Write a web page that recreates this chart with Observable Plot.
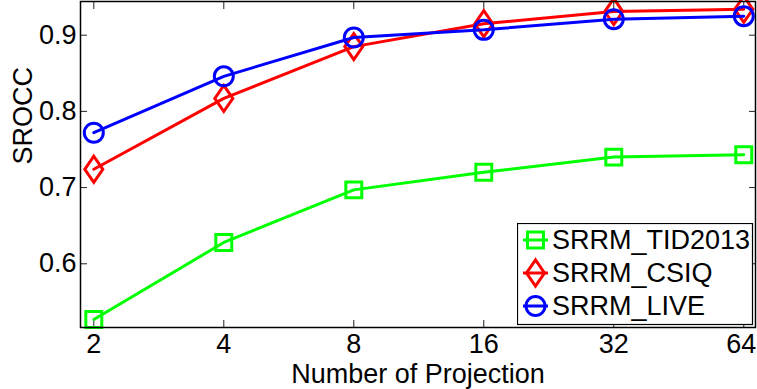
<!DOCTYPE html>
<html><head><meta charset="utf-8">
<script src="https://cdn.jsdelivr.net/npm/d3@7"></script>
<script src="https://cdn.jsdelivr.net/npm/@observablehq/plot@0.6"></script>
<style>
html,body{margin:0;padding:0;background:#fff;}
#chart{position:relative;width:757px;height:389px;font-family:"Liberation Sans",Arial,sans-serif;}
#legend{position:absolute;left:517px;top:223px;}
</style></head><body><div id="chart"></div>
<script>
const projections = [2, 4, 8, 16, 32, 64];
const xTicks = [2, 4, 8, 16, 32, 64];
const yTicks = [0.6, 0.7, 0.8, 0.9];
const seriesNames = ["SRRM_TID2013", "SRRM_CSIQ", "SRRM_LIVE"];
const tid2013 = [0.527, 0.628, 0.697, 0.720, 0.740, 0.743];
const csiq = [0.724, 0.817, 0.885, 0.915, 0.931, 0.934];
const live = [0.772, 0.846, 0.897, 0.907, 0.921, 0.925];
const colors = ["#00ff00", "#ff0000", "#0000ff"];
const xLabel = "Number of Projection";
const yLabel = "SROCC";

const diamond = {
  draw(context, size) {
    const r = Math.sqrt(size / Math.PI);
    const w = r, h = r * 1.45;
    context.moveTo(0, -h); context.lineTo(w, 0); context.lineTo(0, h); context.lineTo(-w, 0); context.closePath();
  }
};
const symbols = [d3.symbolSquare, diamond, d3.symbolCircle];
const radii = [9.0, 9.0, 9.5];

const allValues = [tid2013, csiq, live];
const rows = [];
allValues.forEach((vals, s) => vals.forEach((v, i) => rows.push({series: seriesNames[s], n: projections[i], v})));

const seriesMarks = [];
seriesNames.forEach((name, s) => {
  const d = rows.filter(r => r.series === name);
  seriesMarks.push(Plot.line(d, {x: "n", y: "v", stroke: colors[s], strokeWidth: 3}));
  seriesMarks.push(Plot.dot(d, {x: "n", y: "v", stroke: colors[s], strokeWidth: 3, fill: "none", r: radii[s], symbol: symbols[s]}));
});

const FS = 27;
const innerTicks = xTicks.slice(0, -1);
const lastTick = xTicks.slice(-1);
const chart = Plot.plot({
  width: 757, height: 389,
  marginLeft: 80, marginRight: 2, marginTop: 1, marginBottom: 62,
  style: {fontFamily: "'Liberation Sans', Arial, sans-serif", fontSize: FS + "px", background: "white", color: "black", overflow: "visible"},
  x: {type: "log", base: 2, domain: [1.863, 68.13]},
  y: {domain: [0.5164, 0.9442]},
  marks: [
    Plot.axisX(xTicks, {anchor: "bottom", tickSize: -7, text: null, label: null, stroke: "#222"}),
    Plot.axisX(xTicks, {anchor: "top", tickSize: -7, text: null, label: null, stroke: "#222"}),
    Plot.axisY(yTicks, {anchor: "left", tickSize: -7, text: null, label: null, stroke: "#222"}),
    Plot.axisY(yTicks, {anchor: "right", tickSize: -7, text: null, label: null, stroke: "#222"}),
    Plot.axisX(innerTicks, {anchor: "bottom", tickSize: 0, tickPadding: 6, label: null, tickFormat: d => String(d), fill: "black", fontSize: FS}),
    Plot.axisX(lastTick, {anchor: "bottom", tickSize: 0, tickPadding: 6, label: null, tickFormat: d => String(d), fill: "black", fontSize: FS, dx: -2.5}),
    Plot.axisY(yTicks, {anchor: "left", tickSize: 0, tickPadding: 4, label: null, tickFormat: d => d.toFixed(1), fill: "black", fontSize: FS}),
    Plot.text([xLabel], {frameAnchor: "bottom", lineAnchor: "top", dy: 36.5, fontSize: FS, fill: "black"}),
    Plot.text([yLabel], {frameAnchor: "left", rotate: -90, dx: -57, fontSize: FS, fill: "black"}),
    ...seriesMarks,
    Plot.frame({stroke: "#000", strokeWidth: 1.5})
  ]
});
const host = document.getElementById("chart");
host.appendChild(chart);

// legend
const lg = d3.select(host).append("svg").attr("id", "legend").attr("width", 237).attr("height", 103)
  .style("font-family", "'Liberation Sans', Arial, sans-serif");
lg.append("rect").attr("x", 0.5).attr("y", 0.5).attr("width", 235).attr("height", 101).attr("fill", "white").attr("stroke", "black").attr("stroke-width", 1.2);
seriesNames.forEach((name, s) => {
  const cy = 17 + s * 33;
  const g = lg.append("g");
  g.append("line").attr("x1", 6).attr("x2", 31).attr("y1", cy).attr("y2", cy).attr("stroke", colors[s]).attr("stroke-width", 3);
  g.append("path").attr("transform", `translate(18.5,${cy})`)
    .attr("d", d3.symbol().type(symbols[s]).size(radii[s] * radii[s] * Math.PI)())
    .attr("fill", "none").attr("stroke", colors[s]).attr("stroke-width", 3);
  g.append("text").attr("x", 35).attr("y", cy).attr("dy", "0.35em").attr("font-size", FS).attr("fill", "black").text(name);
});
</script></body></html>
